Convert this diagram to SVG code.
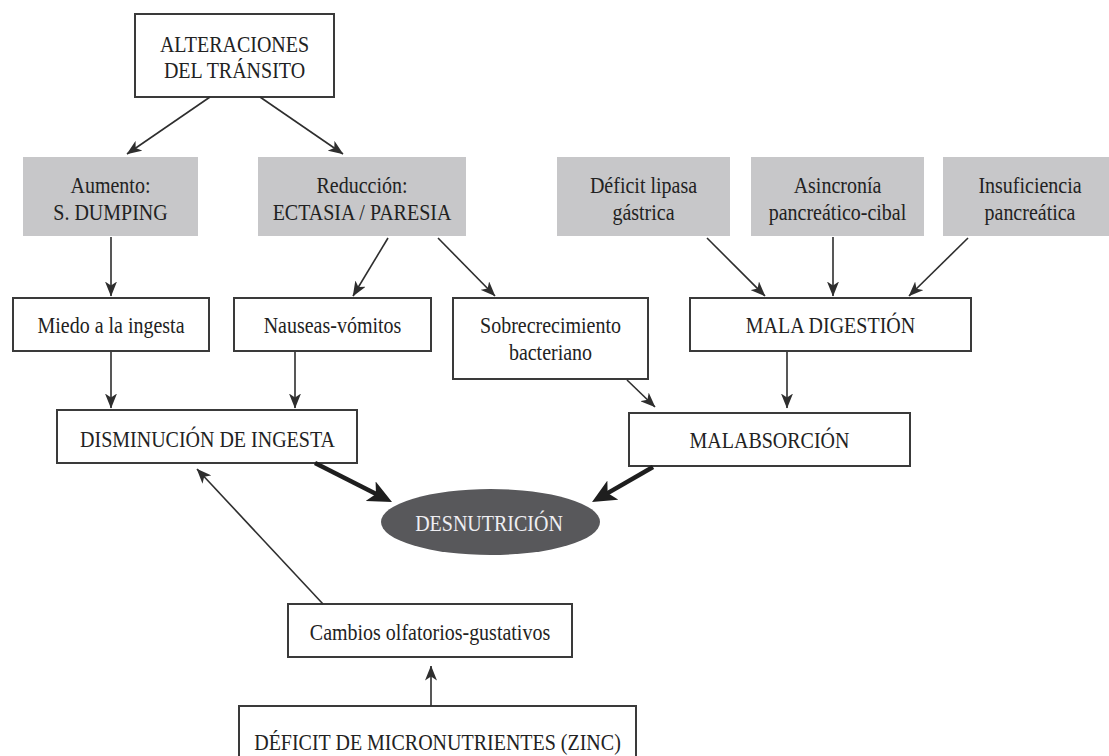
<svg xmlns="http://www.w3.org/2000/svg" width="1109" height="756" viewBox="0 0 1109 756">
  <style>
    .box { fill: #ffffff; stroke: #3a3a3a; stroke-width: 2; }
    .gray { fill: #c7c7c9; stroke: none; }
    .t { font-family: "Liberation Serif", "Times New Roman", serif; font-size: 20px; fill: #222222; text-anchor: middle; }
    .tl { fill: #eeeef2; }
    .thin { stroke: #2e2e2e; stroke-width: 1.6; fill: none; marker-end: url(#ah); }
    .thick { stroke: #1e1e1e; stroke-width: 4.5; fill: none; marker-end: url(#ahb); }
  </style>
  <defs>
    <marker id="ah" markerUnits="userSpaceOnUse" markerWidth="15" markerHeight="12" refX="14.5" refY="6" orient="auto">
      <path d="M0,0 L15,6 L0,12 L4,6 z" fill="#2e2e2e"/>
    </marker>
    <marker id="ahb" markerUnits="userSpaceOnUse" markerWidth="25" markerHeight="22" refX="14" refY="11" orient="auto">
      <path d="M0,0 L24,11 L0,22 L6,11 z" fill="#1e1e1e"/>
    </marker>
  </defs>
  <rect width="1109" height="756" fill="#ffffff"/>

  <g id="alteraciones">
    <rect class="box" x="135" y="14" width="199" height="83"/>
    <text class="t" transform="translate(234.5,52) scale(1,1.18)">ALTERACIONES</text>
    <text class="t" transform="translate(234.5,78) scale(1,1.18)">DEL TRÁNSITO</text>
  </g>

  <g id="aumento">
    <rect class="gray" x="23" y="157" width="175" height="79"/>
    <text class="t" transform="translate(110.5,193) scale(1,1.18)">Aumento:</text>
    <text class="t" transform="translate(110.5,220) scale(1,1.18)">S. DUMPING</text>
  </g>

  <g id="reduccion">
    <rect class="gray" x="258" y="157" width="208" height="79"/>
    <text class="t" transform="translate(362,193) scale(1,1.18)">Reducción:</text>
    <text class="t" transform="translate(362,220) scale(1,1.18)">ECTASIA / PARESIA</text>
  </g>

  <g id="deficit-lipasa">
    <rect class="gray" x="557" y="157" width="173" height="79"/>
    <text class="t" transform="translate(643.5,193) scale(1,1.18)">Déficit lipasa</text>
    <text class="t" transform="translate(643.5,220) scale(1,1.18)">gástrica</text>
  </g>

  <g id="asincronia">
    <rect class="gray" x="751" y="157" width="173" height="79"/>
    <text class="t" transform="translate(837.5,193) scale(1,1.18)">Asincronía</text>
    <text class="t" transform="translate(837.5,220) scale(1,1.18)">pancreático-cibal</text>
  </g>

  <g id="insuficiencia">
    <rect class="gray" x="943" y="157" width="174" height="79"/>
    <text class="t" transform="translate(1030,193) scale(1,1.18)">Insuficiencia</text>
    <text class="t" transform="translate(1030,220) scale(1,1.18)">pancreática</text>
  </g>

  <g id="miedo">
    <rect class="box" x="13" y="298" width="196" height="53"/>
    <text class="t" transform="translate(111,333) scale(1,1.18)">Miedo a la ingesta</text>
  </g>

  <g id="nauseas">
    <rect class="box" x="234" y="298" width="197" height="53"/>
    <text class="t" transform="translate(332.5,333) scale(1,1.18)">Nauseas-vómitos</text>
  </g>

  <g id="sobrecrecimiento">
    <rect class="box" x="453" y="298" width="195" height="81"/>
    <text class="t" transform="translate(550.5,333) scale(1,1.18)">Sobrecrecimiento</text>
    <text class="t" transform="translate(550.5,360) scale(1,1.18)">bacteriano</text>
  </g>

  <g id="mala-digestion">
    <rect class="box" x="690" y="298" width="281" height="53"/>
    <text class="t" transform="translate(830.5,333) scale(1,1.18)">MALA DIGESTIÓN</text>
  </g>

  <g id="disminucion">
    <rect class="box" x="57" y="410" width="300" height="53"/>
    <text class="t" transform="translate(207.5,447) scale(1,1.18)">DISMINUCIÓN DE INGESTA</text>
  </g>

  <g id="malabsorcion">
    <rect class="box" x="629" y="413" width="281" height="53"/>
    <text class="t" transform="translate(769.5,448) scale(1,1.18)">MALABSORCIÓN</text>
  </g>

  <g id="desnutricion">
    <ellipse cx="490.5" cy="522" rx="109.5" ry="33" fill="#58585b"/>
    <text class="t tl" transform="translate(489,531) scale(1,1.18)">DESNUTRICIÓN</text>
  </g>

  <g id="cambios">
    <rect class="box" x="288" y="604" width="284" height="53"/>
    <text class="t" transform="translate(430,640) scale(1,1.18)">Cambios olfatorios-gustativos</text>
  </g>

  <g id="deficit-micronutrientes">
    <rect class="box" x="239" y="706" width="397" height="62"/>
    <text class="t" transform="translate(437.5,750) scale(1,1.18)">DÉFICIT DE MICRONUTRIENTES (ZINC)</text>
  </g>

  <g id="connectors">
    <line class="thin" x1="210" y1="97" x2="127" y2="154"/>
    <line class="thin" x1="260" y1="97" x2="343" y2="154"/>
    <line class="thin" x1="111" y1="237" x2="111" y2="296"/>
    <line class="thin" x1="388" y1="238" x2="353" y2="296"/>
    <line class="thin" x1="438" y1="238" x2="495" y2="296"/>
    <line class="thin" x1="707" y1="238" x2="765" y2="296"/>
    <line class="thin" x1="833" y1="237" x2="833" y2="296"/>
    <line class="thin" x1="968" y1="238" x2="909" y2="296"/>
    <line class="thin" x1="111" y1="352" x2="111" y2="408"/>
    <line class="thin" x1="295" y1="352" x2="295" y2="408"/>
    <line class="thin" x1="627" y1="380" x2="655" y2="407"/>
    <line class="thin" x1="787" y1="352" x2="787" y2="408"/>
    <line class="thin" x1="323" y1="604" x2="197" y2="469"/>
    <line class="thin" x1="431" y1="706" x2="431" y2="666"/>
    <line class="thick" x1="315" y1="463" x2="383.1" y2="497.5"/>
    <line class="thick" x1="653" y1="467" x2="600.7" y2="497.1"/>
  </g>
</svg>
